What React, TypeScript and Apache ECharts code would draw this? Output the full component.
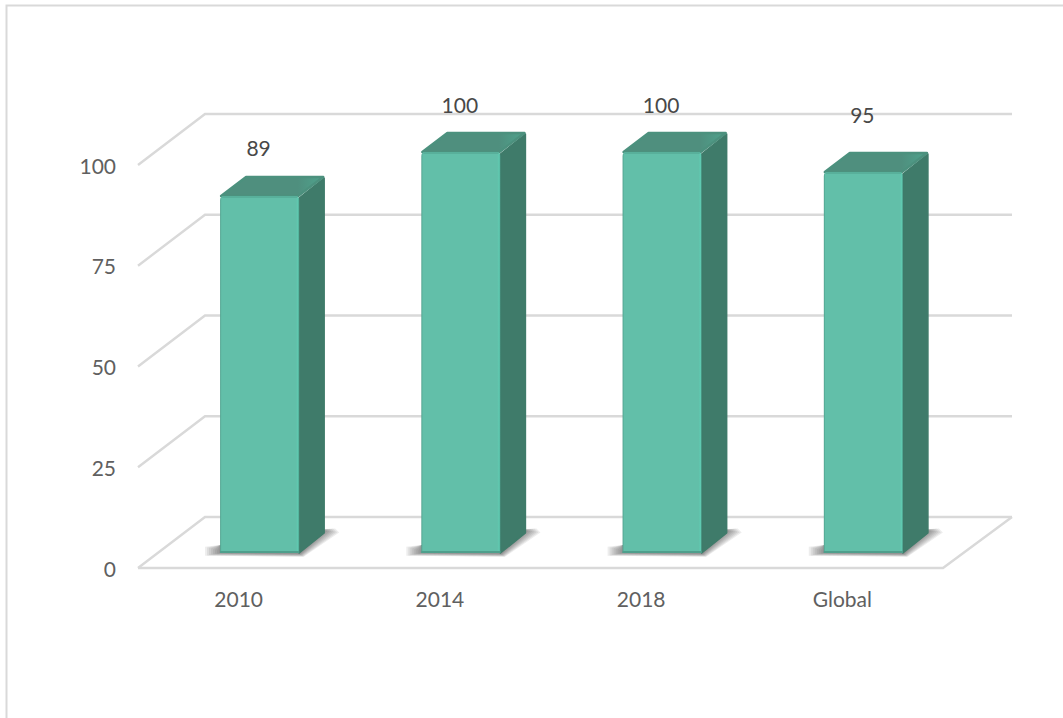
import React, { useEffect, useRef } from "react";
import * as echarts from "echarts";

const categories = ["2010", "2014", "2018", "Global"];
const values = [89, 100, 100, 95];
const ticks = [0, 25, 50, 75, 100];

// how far above the bar's front top edge each value label sits (px)
const labelLift = [49, 48, 48, 58];

const FONT = "Lato, Carlito, sans-serif";
const GRID = "#d9d9d9";
const DEPTH_X = 25;
const DEPTH_Y = 20;
const SHADOW_LAYERS = [7, 6, 5, 4, 3, 2, 1, 0];

function wallItem(params: any, api: any) {
  const r = params.coordSys;
  const v = api.value(1);
  const y = api.coord([0, v])[1];
  const dx = 67;
  const dy = 51;
  const style = { stroke: GRID, lineWidth: 2.4, fill: "none" };
  const children: any[] = [
    {
      type: "polyline",
      shape: {
        points: [
          [r.x, y],
          [r.x + dx, y - dy],
          [r.x + r.width + 69, y - dy],
        ],
      },
      style,
    },
  ];
  if (v === 0) {
    children.push({
      type: "polyline",
      shape: {
        points: [
          [r.x, y],
          [r.x + r.width, y],
          [r.x + r.width + 69, y - dy],
        ],
      },
      style,
    });
  }
  return { type: "group", children };
}

function barItem(params: any, api: any) {
  const i = api.value(0);
  const v = api.value(1);
  const base = api.coord([i, 0]);
  const top = api.coord([i, v]);
  const w = api.size([1, 0])[0] * 0.393;
  const x0 = base[0] - w / 2;
  const x1 = base[0] + w / 2;
  const y0 = top[1];
  const y1 = base[1];
  const grad = (stops: [number, string][], x2 = 1, y2 = 0) =>
    new echarts.graphic.LinearGradient(
      0,
      0,
      x2,
      y2,
      stops.map(([offset, color]) => ({ offset, color }))
    );
  const shadow = SHADOW_LAYERS.map((s) => ({
    type: "polygon",
    shape: {
      points: [
        [x0 - 1 - 2 * s, y1 - 2 - 0.6 * s],
        [x0 - 1 - 2 * s, y1 + 0.4 * s],
        [x1 + 1 + 0.5 * s, y1 + 1 + 0.4 * s],
        [x1 + 26 + 2 * s, y1 - 22 + 0.2 * s],
        [x1 + 22 + 2 * s, y1 - 23 - 0.2 * s],
        [x1 + 10, y1 - 23],
        [x1, y1 - 8],
        [x0, y1 - 8],
      ],
    },
    style: { fill: "rgba(50,50,50,0.09)" },
  }));
  return {
    type: "group",
    children: [
      ...shadow,
      {
        type: "polygon",
        shape: {
          points: [
            [x1, y0 + 2],
            [x1 + DEPTH_X, y0 - DEPTH_Y + 2],
            [x1 + DEPTH_X, y1 - DEPTH_Y],
            [x1, y1],
          ],
        },
        style: { fill: "#3f7b6a", stroke: "#3f7b6a", lineWidth: 1.5, lineJoin: "round" },
      },
      {
        type: "polygon",
        shape: {
          points: [
            [x0 + 1, y0],
            [x0 + DEPTH_X + 1, y0 - DEPTH_Y + 1],
            [x1 + DEPTH_X - 1, y0 - DEPTH_Y + 1],
            [x1 - 1, y0],
          ],
        },
        style: {
          fill: grad([
            [0, "#4f8f7e"],
            [0.75, "#4f8f7e"],
            [0.95, "#4f9f8a"],
            [1, "#4a9583"],
          ]),
          stroke: "#4c917e",
          lineWidth: 2.5,
          lineJoin: "round",
        },
      },
      {
        type: "rect",
        shape: { x: x0, y: y0, width: w, height: y1 - y0, r: [4, 4, 0, 0] },
        style: {
          fill: grad([
            [0, "#4f9f8c"],
            [0.02, "#62bfa9"],
            [0.96, "#62bfa9"],
            [0.985, "#5fcab1"],
            [1, "#4a9986"],
          ]),
        },
      },
      {
        type: "rect",
        shape: { x: x0 + 2, y: y0, width: w - 4, height: 2 },
        style: { fill: "#58b09b" },
      },
      {
        type: "rect",
        shape: { x: x0, y: y1 - 2, width: w, height: 2 },
        style: { fill: "#4f9f8c" },
      },
      {
        type: "text",
        style: {
          text: String(v),
          x: base[0] - 1,
          y: y0 - labelLift[i],
          align: "center",
          verticalAlign: "middle",
          fill: "#484848",
          font: `21px ${FONT}`,
        },
      },
    ],
  };
}

export default function App() {
  const ref = useRef<HTMLDivElement>(null);
  useEffect(() => {
    const chart = echarts.init(ref.current!, undefined, { renderer: "svg" });
    chart.setOption({
      animation: false,
      backgroundColor: "#ffffff",
      grid: [
        { left: 138, top: 165, width: 805, height: 403 },
        { left: 159, top: 152, width: 805, height: 401 },
      ],
      xAxis: [
        {
          type: "category",
          gridIndex: 0,
          data: categories,
          axisLine: { show: false },
          axisTick: { show: false },
          axisLabel: { color: "#606060", fontFamily: FONT, fontSize: 21, margin: 20 },
        },
        { type: "category", gridIndex: 1, data: categories, show: false },
      ],
      yAxis: [
        {
          type: "value",
          gridIndex: 0,
          min: 0,
          max: 100,
          interval: 25,
          splitLine: { show: false },
          axisLine: { show: false },
          axisTick: { show: false },
          axisLabel: { color: "#606060", fontFamily: FONT, fontSize: 21, margin: 22 },
        },
        {
          type: "value",
          gridIndex: 1,
          min: 0,
          max: 100,
          interval: 25,
          show: false,
          splitLine: { show: false },
        },
      ],
      graphic: [
        {
          type: "polyline",
          silent: true,
          shape: {
            points: [
              [6.5, 718],
              [6.5, 5.5],
              [1063, 5.5],
            ],
          },
          style: { stroke: GRID, lineWidth: 2, fill: "none" },
        },
      ],
      series: [
        {
          type: "custom",
          xAxisIndex: 0,
          yAxisIndex: 0,
          renderItem: wallItem,
          data: ticks.map((t) => [0, t]),
          silent: true,
          z: 1,
        },
        {
          type: "custom",
          xAxisIndex: 1,
          yAxisIndex: 1,
          renderItem: barItem,
          data: values.map((v, i) => [i, v]),
          silent: true,
          z: 2,
        },
      ],
    });
    return () => chart.dispose();
  }, []);
  return (
    <div
      ref={ref}
      style={{ position: "absolute", left: 0, top: 0, width: 1063, height: 718 }}
    />
  );
}
